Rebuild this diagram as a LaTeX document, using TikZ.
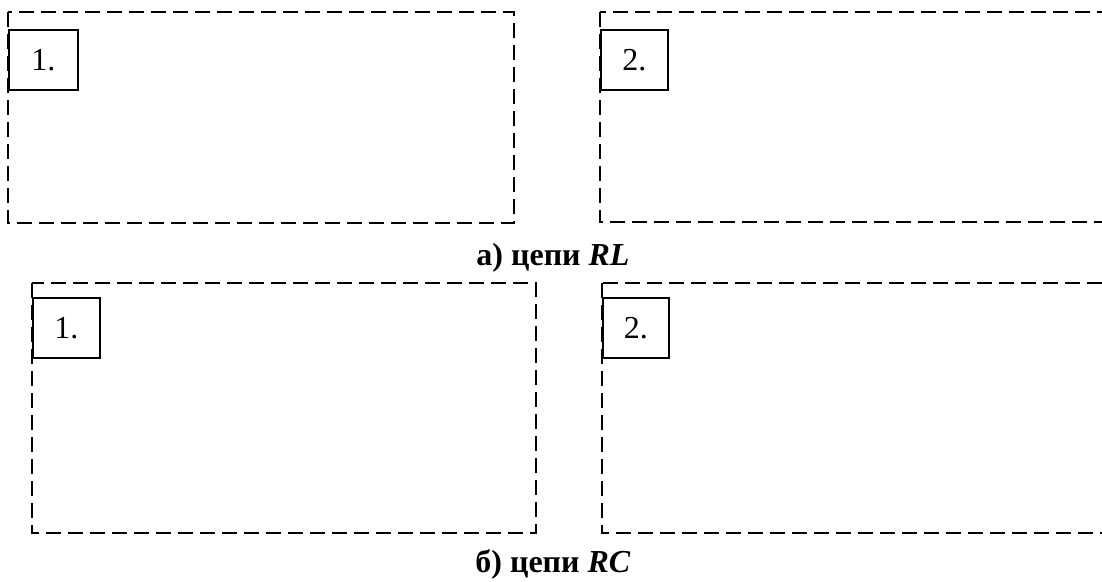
\documentclass[tikz,border=0pt]{standalone}
\usepackage{fontspec}
\setmainfont{Liberation Serif}
\begin{document}
\begin{tikzpicture}[x=1pt,y=-1pt,
  frame/.style={draw, line width=2pt, dash pattern=on 15pt off 7pt},
  numbox/.style={draw, line width=1.5pt, minimum width=69pt, minimum height=60pt, inner sep=0pt, anchor=north west, font=\fontsize{32}{38}\selectfont},
  caption/.style={font=\fontsize{32}{38}\selectfont\bfseries, anchor=base}]
\useasboundingbox (0,0) rectangle (1102,581);
\clip (0,0) rectangle (1102,581);
% row a
\draw[frame] (8,12) rectangle (514,223);
\draw[frame] (600,12) rectangle (1130,222);
\node[numbox] (a1) at (8,29) {1.};
\node[numbox, minimum width=67pt] (a2) at (600,29) {2.};
\node[caption] (ca) at (553,265) {а) цепи \textit{RL}};
% row b
\draw[frame] (32,283) rectangle (536,533);
\draw[frame] (602,283) rectangle (1130,533);
\node[numbox, minimum width=67pt] (b1) at (32,297) {1.};
\node[numbox, minimum width=66pt] (b2) at (602,297) {2.};
\node[caption] (cb) at (553,572) {б) цепи \textit{RC}};
\end{tikzpicture}
\end{document}
